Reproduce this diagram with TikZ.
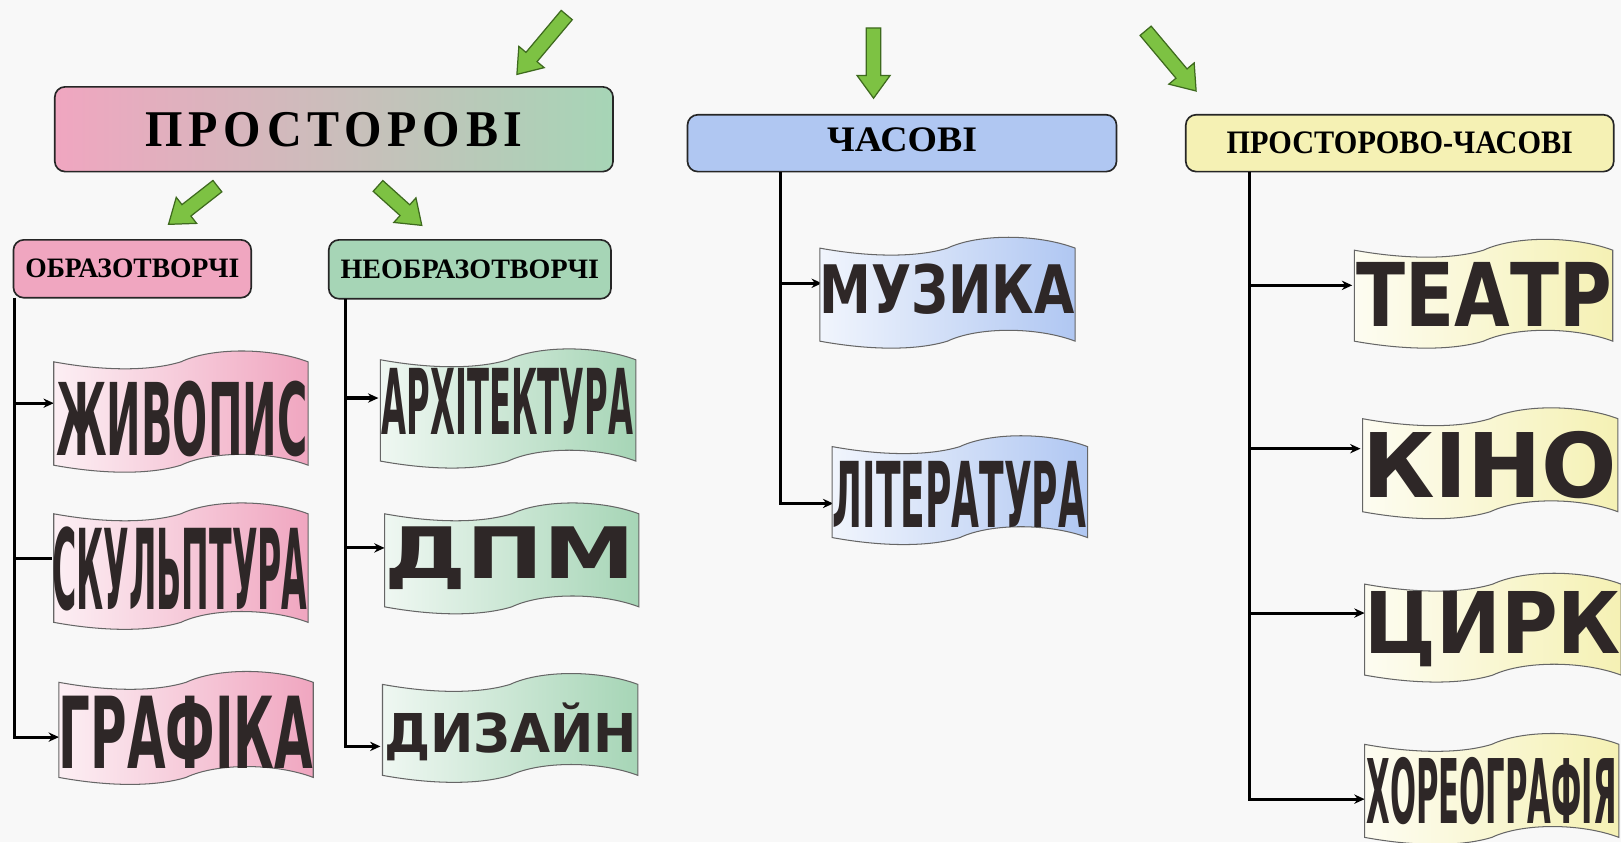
\documentclass[tikz,border=0pt]{standalone}
\usepackage{fontspec}
\setmainfont{Liberation Serif}
\newfontfamily\wafont{DejaVu Sans}
\usetikzlibrary{arrows.meta}
\definecolor{bgc}{HTML}{F8F8F8}
\definecolor{pinkc}{HTML}{F0A6C0}
\definecolor{greenc}{HTML}{A6D5B6}
\definecolor{bluec}{HTML}{B0C7F2}
\definecolor{yellowc}{HTML}{F5F1B4}
\definecolor{arrg}{HTML}{7DC243}
\definecolor{arrgd}{HTML}{3E6A1E}
\definecolor{txtc}{HTML}{2E2727}
\tikzset{
  conn/.style={line width=1.5pt, black},
  connar/.style={conn, -{Stealth[length=5pt,width=4.5pt]}},
  banner/.style={draw=black!60, line width=0.5pt},
  greenarr/.style={fill=arrg, draw=arrgd, line width=0.6pt, line join=miter},
  catbox/.style={draw=black!85, line width=0.8pt, rounded corners=5pt, inner sep=0pt},
  wtext/.style={inner sep=0pt, text=txtc},
}
\newcommand\flagban[5]{%
\path[banner, left color=#5!18!white, right color=#5]
 (#1,#2) .. controls ({#1+0.2*#3},{#2+9}) and ({#1+0.38*#3},{#2+9}) .. ({#1+0.5*#3},{#2})
 .. controls ({#1+0.62*#3},{#2-14}) and ({#1+0.85*#3},{#2-14}) .. ({#1+#3},{#2})
 -- ({#1+#3},{#2+#4})
 .. controls ({#1+0.85*#3},{#2+#4-14}) and ({#1+0.62*#3},{#2+#4-14}) .. ({#1+0.5*#3},{#2+#4})
 .. controls ({#1+0.38*#3},{#2+#4+9}) and ({#1+0.2*#3},{#2+#4+9}) .. (#1,{#2+#4}) -- cycle;}
\newcommand\garrow[4]{%
\begin{scope}[shift={(#1,#2)}, rotate=#3]
\path[greenarr] (0,0) -- (-22,16) -- (-22,7) -- (-#4,7) -- (-#4,-7) -- (-22,-7) -- (-22,-16) -- cycle;
\end{scope}}
\begin{document}
\begin{tikzpicture}[x=0.5pt,y=-0.5pt]
\fill[bgc] (0,0) rectangle (1568,814.5);
\useasboundingbox (0,0) rectangle (1568,814.5);

% category boxes
\node[catbox, minimum width=270pt, minimum height=41pt, left color=pinkc, right color=greenc] (prost) at (323,125)
  {\resizebox{182.5pt}{16.5pt}{\bfseries\addfontfeatures{LetterSpace=12}ПРОСТОРОВІ}};
\node[catbox, minimum width=115pt, minimum height=28pt, fill=pinkc] (obr) at (128,260)
  {\resizebox{103.5pt}{9pt}{\bfseries ОБРАЗОТВОРЧІ}};
\node[catbox, minimum width=136.5pt, minimum height=28.5pt, fill=greenc] (neobr) at (454.5,260.5)
  {\resizebox{125pt}{9pt}{\bfseries НЕОБРАЗОТВОРЧІ}};
\node[catbox, minimum width=207.5pt, minimum height=27.5pt, fill=bluec] (chas) at (872.5,138.5)
  {\raisebox{3pt}{\resizebox{72.5pt}{11.5pt}{\bfseries ЧАСОВІ}}};
\node[catbox, minimum width=207pt, minimum height=27.5pt, fill=yellowc] (prch) at (1354,138.5)
  {\resizebox{167.5pt}{10.5pt}{\bfseries ПРОСТОРОВО-ЧАСОВІ}};

% branch anchors
\coordinate (t1) at (14,288);
\coordinate (t2) at (334,289);
\coordinate (t3) at (755,166);
\coordinate (t4) at (1209,166);
\coordinate (bZh) at (52,390);
\coordinate (bSk) at (50,540);
\coordinate (bGr) at (57,713);
\coordinate (bAr) at (366,385);
\coordinate (bDp) at (372,530);
\coordinate (bDz) at (368,722);
\coordinate (bMu) at (795,274);
\coordinate (bLi) at (806,487);
\coordinate (bTe) at (1308,276);
\coordinate (bKi) at (1316,434);
\coordinate (bCy) at (1320,593);
\coordinate (bKh) at (1320,773);

% connectors
\draw[connar] (t1) |- (bGr);
\draw[connar] (t1 |- bZh) -- (bZh);
\draw[conn] (t1 |- bSk) -- (bSk);
\draw[connar] (t2) |- (bDz);
\draw[connar] (t2 |- bAr) -- (bAr);
\draw[connar] (t2 |- bDp) -- (bDp);
\draw[connar] (t3) |- (bLi);
\draw[connar] (t3 |- bMu) -- (bMu);
\draw[connar] (t4) |- (bKh);
\draw[connar] (t4 |- bTe) -- (bTe);
\draw[connar] (t4 |- bKi) -- (bKi);
\draw[connar] (t4 |- bCy) -- (bCy);

% banners
\flagban{52}{350}{246}{100}{pinkc}
\flagban{52}{497}{246}{105}{pinkc}
\flagban{57}{660}{246}{92}{pinkc}
\flagban{368}{348}{247}{98}{greenc}
\flagban{372}{497}{246}{90}{greenc}
\flagban{370}{662}{247}{88}{greenc}
\flagban{793}{240}{247}{90}{bluec}
\flagban{805}{432}{247}{88}{bluec}
\flagban{1310}{242}{250}{88}{yellowc}
\flagban{1318}{405}{247}{90}{yellowc}
\flagban{1320}{565}{248}{88}{yellowc}
\flagban{1320}{720}{246}{90}{yellowc}

% banner texts
\node[wtext] (zhyv) at (176,405) {\resizebox{121.5pt}{36pt}{\wafont\bfseries ЖИВОПИС}};
\node[wtext] (skul) at (174,550) {\resizebox{123.5pt}{40pt}{\wafont\bfseries СКУЛЬПТУРА}};
\node[wtext] (graf) at (180,708) {\resizebox{123pt}{35pt}{\wafont\bfseries ГРАФІКА}};
\node[wtext] (arkh) at (491,388) {\resizebox{121.5pt}{32pt}{\wafont\bfseries АРХІТЕКТУРА}};
\node[wtext, anchor=base] (dpm) at (493,560) {\resizebox{121.5pt}{25pt}{\wafont\bfseries ДПМ}};
\node[wtext, anchor=base] (dyz) at (494,728) {\resizebox{122.5pt}{24pt}{\wafont\bfseries ДИЗАЙН}};
\node[wtext] (muz) at (916,280) {\resizebox{123.5pt}{24pt}{\wafont\bfseries МУЗИКА}};
\node[wtext] (lit) at (928,478) {\resizebox{122.5pt}{32pt}{\wafont\bfseries ЛІТЕРАТУРА}};
\node[wtext] (teat) at (1436,285) {\resizebox{123.5pt}{31pt}{\wafont\bfseries ТЕАТР}};
\node[wtext] (kino) at (1441,450) {\resizebox{123.5pt}{32pt}{\wafont\bfseries КІНО}};
\node[wtext, anchor=base] (tsyrk) at (1444,632) {\resizebox{124pt}{30pt}{\wafont\bfseries ЦИРК}};
\node[wtext] (khor) at (1443,765) {\resizebox{121pt}{32pt}{\wafont\bfseries ХОРЕОГРАФІЯ}};

% green block arrows
\garrow{500}{72}{230}{75}
\garrow{845}{95}{270}{68}
\garrow{1157}{88}{310}{76}
\garrow{163}{217}{218}{60}
\garrow{408}{218}{318}{57}
\end{tikzpicture}
\end{document}
